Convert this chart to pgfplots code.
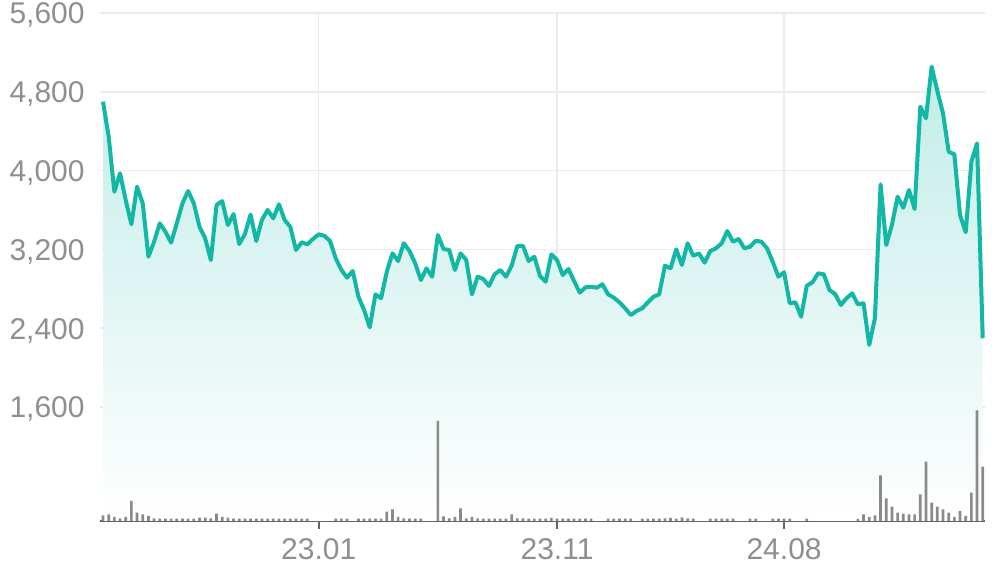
\documentclass[border=0pt]{standalone}
\usepackage{fontspec}
\setmainfont{Liberation Sans}
\usepackage{pgfplots}
\pgfplotsset{compat=1.18}
\usepackage{pgfplotstable}

\definecolor{lineteal}{RGB}{19,183,166}
\definecolor{gridgray}{RGB}{235,235,235}
\definecolor{labelgray}{RGB}{142,142,147}
\definecolor{axisgray}{RGB}{100,100,100}
\definecolor{bargray}{RGB}{138,138,138}

% weekly closing price
\pgfplotstableread{
i price
0 4700
1 4344
2 3786
3 3973
4 3702
5 3455
6 3837
7 3668
8 3126
9 3278
10 3465
11 3380
12 3268
13 3465
14 3668
15 3793
16 3668
17 3430
18 3313
19 3092
20 3651
21 3691
22 3448
23 3559
24 3255
25 3356
26 3554
27 3285
28 3499
29 3600
30 3516
31 3658
32 3499
33 3430
34 3194
35 3272
36 3252
37 3306
38 3353
39 3339
40 3285
41 3110
42 2991
43 2913
44 2981
45 2720
46 2585
47 2409
48 2744
49 2704
50 2974
51 3160
52 3082
53 3262
54 3184
55 3059
56 2889
57 3008
58 2923
59 3346
60 3204
61 3194
62 2991
63 3160
64 3092
65 2744
66 2923
67 2900
68 2829
69 2947
70 2991
71 2923
72 3035
73 3235
74 3235
75 3082
76 3126
77 2930
78 2872
79 3150
80 3092
81 2940
82 3001
83 2879
84 2761
85 2815
86 2821
87 2811
88 2846
89 2744
90 2710
91 2663
92 2602
93 2534
94 2575
95 2602
96 2663
97 2720
98 2744
99 3035
100 3008
101 3201
102 3042
103 3262
104 3136
105 3160
106 3065
107 3184
108 3211
109 3262
110 3387
111 3278
112 3306
113 3211
114 3227
115 3288
116 3278
117 3211
118 3075
119 2923
120 2968
121 2653
122 2663
123 2517
124 2832
125 2866
126 2957
127 2947
128 2788
129 2747
130 2636
131 2704
132 2754
133 2643
134 2653
135 2230
136 2501
137 3861
138 3245
139 3448
140 3735
141 3623
142 3803
143 3610
144 4649
145 4531
146 5055
147 4808
148 4582
149 4192
150 4165
151 3549
152 3374
153 4090
154 4277
155 2298
}\pricedata

% weekly volume (relative units)
\pgfplotstableread{
i vol
0 5.7
1 6.7
2 4
3 2.7
4 4
5 20
6 8.3
7 6.7
8 5
9 2.7
10 2.4
11 2.4
12 2.4
13 2.4
14 2.4
15 2.4
16 2.4
17 3.3
18 3.3
19 2.7
20 7.3
21 4
22 3.3
23 2.4
24 2.4
25 2.4
26 2.4
27 2.4
28 2.4
29 2.4
30 2.4
31 2.4
32 2.4
33 2.4
34 2.4
35 2.4
36 2.4
41 2.4
42 2.4
43 2.4
45 2.4
46 2.4
47 2.4
48 2.4
49 2.4
50 9.3
51 11.7
52 4
53 2.7
54 2.4
55 2.4
56 2.4
59 100
60 4.7
61 2.7
62 4
63 12.7
64 2.7
65 4
66 2.7
67 2.4
68 2.4
69 2.4
70 2.4
71 2.4
72 6.7
73 2.7
74 2.5
75 2.4
76 2.4
77 2.4
78 2.4
79 3
80 2.4
81 2.4
82 2.4
83 2.4
84 2.4
85 2.4
86 2.4
89 2.4
90 2.4
91 2.4
92 2.4
93 2.4
95 2.4
96 2.4
97 2.4
98 2.4
99 2.7
100 3.2
101 2.4
102 3.5
103 2.7
104 2.4
107 2.4
108 2.4
109 2.4
110 2.4
111 2.4
114 2.4
115 2.4
118 2.4
119 2.4
120 2.4
121 2.4
124 2.4
133 2
134 6.7
135 4
136 5.7
137 45.7
138 22.7
139 14.3
140 8.3
141 7.3
142 6.7
143 6.7
144 26.7
145 59.3
146 18.3
147 14.3
148 11.7
149 8.3
150 4
151 10
152 5
153 28.3
154 110.7
155 54.3
}\voldata

\begin{document}
\begin{tikzpicture}
\useasboundingbox (0,0) rectangle (498pt,283.5pt);
\begin{axis}[
  at={(50pt,23pt)}, anchor=south west,
  scale only axis, width=442.5pt, height=254pt,
  xmin=-0.53, xmax=155.4, ymin=443, ymax=5600,
  axis x line*=bottom, axis y line*=left,
  y axis line style={draw=none},
  x axis line style={draw=axisgray, line width=1pt, -},
  xtick={38,80,120}, xticklabels={23.01,23.11,24.08},
  ytick={1600,2400,3200,4000,4800,5600},
  grid=major, grid style={gridgray, line width=0.75pt},
  tick align=outside, major tick length=4pt,
  xtick style={draw=axisgray, line width=1pt},
  ytick style={draw=none},
  ticklabel style={font=\fontsize{15}{17}\selectfont, text=labelgray},
  /pgf/number format/assume math mode=true,
  /pgf/number format/1000 sep={,},
  yticklabel style={anchor=base east, inner sep=0pt, xshift=-3.5pt, yshift=-5.4pt},
  xticklabel style={anchor=north, inner sep=0pt, yshift=-4.5pt},
]
\addplot[draw=none, top color=lineteal!26!white, bottom color=white, forget plot]
  table[x=i, y=price]{\pricedata} \closedcycle;
\addplot[lineteal, line width=2pt, line join=round]
  table[x=i, y=price]{\pricedata};
\end{axis}
\begin{axis}[
  at={(50pt,23pt)}, anchor=south west,
  scale only axis, width=442.5pt, height=254pt,
  xmin=-0.53, xmax=155.4, ymin=0, ymax=508,
  hide axis,
]
\addplot[ybar, bar width=1.35pt, fill=bargray, draw=none]
  table[x=i, y=vol]{\voldata};
\end{axis}
\end{tikzpicture}
\end{document}
